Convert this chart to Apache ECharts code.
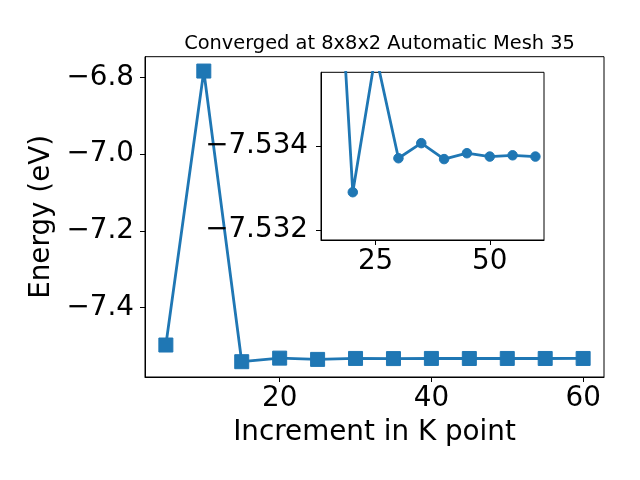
<!DOCTYPE html>
<html><head><meta charset="utf-8">
<script src="https://cdn.jsdelivr.net/npm/echarts@6/dist/echarts.min.js"></script>
<style>html,body{margin:0;padding:0;background:#fff}#c{width:640px;height:480px}</style>
</head><body><div id="c"></div>
<script>
var kpoints = [5, 10, 15, 20, 25, 30, 35, 40, 45, 50, 55, 60];
var energy = [-7.4986, -6.7825, -7.5422, -7.5329, -7.5362, -7.53371, -7.53407, -7.53369, -7.53383, -7.53375, -7.53378, -7.53375];
var mainXTicks = [20, 40, 60];
var mainYTicks = [-7.4, -7.2, -7.0, -6.8];
var insetXTicks = [25, 50];
var insetYTicks = [-7.534, -7.532];
var titleText = 'Converged at 8x8x2 Automatic Mesh 35';
var xName = 'Increment in K point';
var yName = 'Energy (eV)';

var FONT = 'DejaVu Sans';
var BLUE = '#1f77b4';
function fmt(d) { return function (v) { return (v < 0 ? '\u2212' : '') + Math.abs(v).toFixed(d); }; }

var mainPts = kpoints.map(function (k, i) { return [k, energy[i]]; });
var insetPts = mainPts.slice(2);

var chart = echarts.init(document.getElementById('c'), null, {renderer: 'canvas'});
var axisCommon = {
  type: 'value', scale: true,
  splitLine: {show: false},
  axisLine: {show: true, onZero: false, lineStyle: {color: '#000', width: 1}},
  axisTick: {show: true, inside: false, length: 5, lineStyle: {color: '#000', width: 1}}
};
function ax(extra) { return Object.assign({}, JSON.parse(JSON.stringify(axisCommon)), extra); }

chart.setOption({
  animation: false,
  backgroundColor: '#fff',
  title: {
    text: titleText, left: 374.5, top: 29, textAlign: 'center',
    textStyle: {fontFamily: FONT, fontSize: 19.4, fontWeight: 'normal', color: '#000'}
  },
  grid: [
    {left: 145, top: 56.7, width: 459, height: 320.3, show: true, borderColor: '#000', borderWidth: 1, backgroundColor: '#fff', containLabel: false},
    {left: 321, top: 72.3, width: 223, height: 167.7, show: true, borderColor: '#000', borderWidth: 1, backgroundColor: '#fff', containLabel: false, z: 5}
  ],
  xAxis: [
    ax({gridIndex: 0, min: 2.25, max: 62.75,
      name: xName, nameLocation: 'middle', nameGap: 42,
      nameTextStyle: {fontFamily: FONT, fontSize: 27.8, color: '#000'},
      axisTick: {show: true, length: 5, customValues: mainXTicks, lineStyle: {color: '#000'}},
      axisLabel: {customValues: mainXTicks, margin: 8, fontFamily: FONT, fontSize: 27.8, color: '#000', formatter: fmt(0)}}),
    ax({gridIndex: 1, min: 13.04, max: 61.88, z: 5,
      axisTick: {show: true, length: 5, customValues: insetXTicks, lineStyle: {color: '#000'}},
      axisLabel: {customValues: insetXTicks, margin: 8, fontFamily: FONT, fontSize: 27.8, color: '#000', formatter: fmt(0)}})
  ],
  yAxis: [
    ax({gridIndex: 0, min: -7.5822, max: -6.745,
      name: yName, nameLocation: 'middle', nameGap: 88,
      nameTextStyle: {fontFamily: FONT, fontSize: 27.8, color: '#000'},
      axisTick: {show: true, length: 5, customValues: mainYTicks, lineStyle: {color: '#000'}},
      axisLabel: {customValues: mainYTicks, margin: 11, fontFamily: FONT, fontSize: 27.8, color: '#000', formatter: fmt(1)}}),
    ax({gridIndex: 1, min: -7.53576, max: -7.53176, inverse: true, z: 5,
      axisTick: {show: true, length: 5, customValues: insetYTicks, lineStyle: {color: '#000'}},
      axisLabel: {customValues: insetYTicks, margin: 13, fontFamily: FONT, fontSize: 27.8, color: '#000', formatter: fmt(3)}})
  ],
  series: [
    {type: 'line', xAxisIndex: 0, yAxisIndex: 0, data: mainPts, symbol: 'rect', symbolSize: 14,
      lineStyle: {color: BLUE, width: 2.8}, itemStyle: {color: BLUE, borderColor: BLUE}, clip: true, z: 2},
    {type: 'line', xAxisIndex: 1, yAxisIndex: 1, data: insetPts, symbol: 'circle', symbolSize: 9.5,
      lineStyle: {color: BLUE, width: 2.8}, itemStyle: {color: BLUE, borderColor: BLUE}, clip: true, z: 6}
  ]
});
</script>
</body></html>
